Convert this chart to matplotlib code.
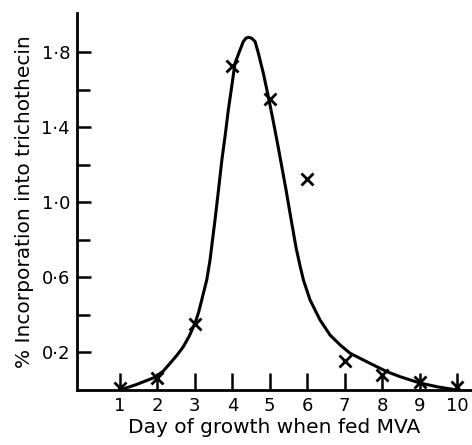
import matplotlib
matplotlib.use("Agg")
import matplotlib.pyplot as plt
from matplotlib.ticker import FixedLocator

# measured points (day, % incorporation)
days = [1, 2, 3, 4, 5, 6, 7, 8, 9, 10]
incorporation = [0.01, 0.065, 0.35, 1.73, 1.55, 1.125, 0.155, 0.08, 0.04, 0.015]

# hand-drawn smooth curve
curve_x = [1.0, 1.45, 1.935, 2.15, 2.335, 2.52, 2.691, 2.85, 3.003, 3.10, 3.182, 3.316,
           3.404, 3.47, 3.537, 3.63, 3.72, 3.81, 3.892, 3.983, 4.07, 4.205, 4.293, 4.36,
           4.427, 4.52, 4.606, 4.694, 4.827, 4.961, 5.095, 5.22, 5.33, 5.44, 5.56, 5.70,
           5.81, 5.90, 6.075, 6.342, 6.609, 6.88, 7.143, 7.677, 8.123, 8.479, 9.013, 9.5, 10.0]
curve_y = [0.0, 0.03, 0.068, 0.10, 0.142, 0.185, 0.231, 0.288, 0.356, 0.415, 0.48, 0.587,
           0.693, 0.80, 0.907, 1.067, 1.227, 1.36, 1.493, 1.618, 1.742, 1.813, 1.858, 1.875,
           1.881, 1.875, 1.858, 1.796, 1.689, 1.564, 1.43, 1.30, 1.18, 1.06, 0.92, 0.76,
           0.66, 0.585, 0.48, 0.373, 0.293, 0.24, 0.196, 0.142, 0.098, 0.071, 0.037, 0.016, 0.0]

y_major = [0.2, 0.6, 1.0, 1.4, 1.8]
y_major_labels = ["0·2", "0·6", "1·0", "1·4", "1·8"]
y_minor = [0.4, 0.8, 1.2, 1.6]
x_ticks = [1, 2, 3, 4, 5, 6, 7, 8, 9, 10]

fig = plt.figure(figsize=(4.72, 4.45), dpi=100)
ax = fig.add_axes([77 / 472, 55 / 445, 1 - 77 / 472, (390 - 13) / 445])

ax.plot(curve_x, curve_y, color="black", lw=2.2, solid_capstyle="round", solid_joinstyle="round")
ax.plot(days, incorporation, linestyle="none", marker="x", color="black", ms=8, mew=2)

ax.set_xlim(-0.149, 10.4)
ax.set_ylim(0, 2.01)

for s in ["top", "right"]:
    ax.spines[s].set_visible(False)
for s in ["left", "bottom"]:
    ax.spines[s].set_linewidth(2)

ax.yaxis.set_major_locator(FixedLocator(y_major))
ax.set_yticklabels(y_major_labels)
ax.yaxis.set_minor_locator(FixedLocator(y_minor))
ax.set_xticks(x_ticks)
ax.set_xticklabels([str(d) for d in x_ticks])

ax.tick_params(axis="y", which="major", direction="in", length=10, width=1.8, pad=5, labelsize=13)
ax.tick_params(axis="y", which="minor", direction="in", length=9, width=1.8)
ax.tick_params(axis="x", which="major", direction="in", length=12, width=1.8, pad=5, labelsize=13)

ax.set_xlabel("Day of growth when fed MVA", fontsize=14.5, labelpad=2)
ax.set_ylabel("% Incorporation into trichothecin", fontsize=14.5, labelpad=5)

fig.savefig("out.png", dpi=100)
